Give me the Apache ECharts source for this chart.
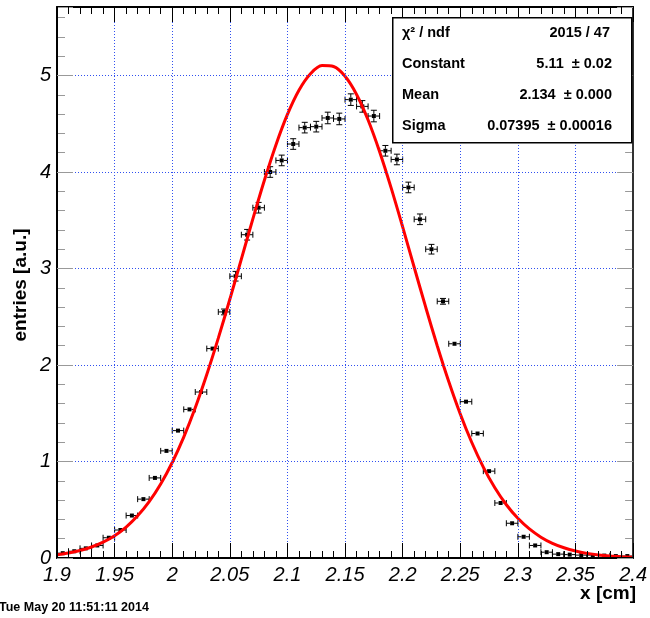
<!DOCTYPE html>
<html><head><meta charset="utf-8">
<script src="https://cdn.jsdelivr.net/npm/echarts@6/dist/echarts.min.js"></script>
<style>html,body{margin:0;padding:0;background:#fff}#c{width:650px;height:618px}</style>
</head><body><div id="c"></div>
<script>
// ---- data ----
const binWidth = 0.01;
const binCenters = [1.905,1.915,1.925,1.935,1.945,1.955,1.965,1.975,1.985,1.995,
  2.005,2.015,2.025,2.035,2.045,2.055,2.065,2.075,2.085,2.095,
  2.105,2.115,2.125,2.135,2.145,2.155,2.165,2.175,2.185,2.195,
  2.205,2.215,2.225,2.235,2.245,2.255,2.265,2.275,2.285,2.295,
  2.305,2.315,2.325,2.335,2.345,2.355,2.365,2.375,2.385,2.395];
const entries = [0.05,0.07,0.10,0.13,0.21,0.29,0.44,0.61,0.83,1.11,
  1.32,1.54,1.72,2.17,2.55,2.92,3.35,3.63,4.00,4.12,
  4.29,4.46,4.47,4.56,4.55,4.75,4.68,4.58,4.22,4.13,
  3.84,3.51,3.20,2.66,2.22,1.62,1.29,0.90,0.57,0.36,
  0.22,0.13,0.06,0.04,0.035,0.03,0.03,0.025,0.02,0.02];
const entryErrors = [0.01,0.01,0.01,0.01,0.01,0.015,0.015,0.015,0.02,0.02,
  0.02,0.02,0.025,0.025,0.03,0.05,0.055,0.055,0.055,0.055,
  0.055,0.055,0.055,0.06,0.06,0.06,0.06,0.06,0.055,0.055,
  0.055,0.055,0.05,0.03,0.025,0.02,0.02,0.02,0.015,0.015,
  0.01,0.01,0.01,0.01,0.01,0.01,0.01,0.01,0.01,0.01];
const fitX = [1.90,1.91,1.92,1.93,1.94,1.95,1.96,1.97,1.98,1.99,
  2.00,2.01,2.02,2.03,2.04,2.05,2.06,2.07,2.08,2.09,
  2.10,2.11,2.12,2.13,2.14,2.15,2.16,2.17,2.18,2.19,
  2.20,2.21,2.22,2.23,2.24,2.25,2.26,2.27,2.28,2.29,
  2.30,2.31,2.32,2.33,2.34,2.35,2.36,2.37,2.38,2.39,2.40];
const fitY = [0.034,0.052,0.078,0.114,0.164,0.231,0.321,0.437,0.584,0.767,
  0.990,1.253,1.557,1.901,2.278,2.681,3.097,3.514,3.914,4.281,
  4.597,4.848,5.019,5.103,5.093,4.992,4.804,4.539,4.211,3.836,
  3.431,3.013,2.599,2.200,1.829,1.493,1.197,0.942,0.728,0.552,
  0.411,0.301,0.216,0.152,0.106,0.072,0.048,0.031,0.020,0.013,0.008];
const xTickValues = [1.9,1.95,2.0,2.05,2.1,2.15,2.2,2.25,2.3,2.35,2.4];
const xTickLabels = ['1.9','1.95','2','2.05','2.1','2.15','2.2','2.25','2.3','2.35','2.4'];
const yTickValues = [0,1,2,3,4,5];
const yTickLabels = ['0','1','2','3','4','5'];
const statNames = ['\u03C7\u00B2 / ndf','Constant','Mean','Sigma'];
const statValues = ['2015 / 47','5.11  \u00B1 0.02','2.134  \u00B1 0.000','0.07395  \u00B1 0.00016'];
const xTitle = 'x [cm]';
const yTitle = 'entries [a.u.]';
const dateText = 'Tue May 20 11:51:11 2014';
const xMin = 1.9, xMax = 2.4, yMin = 0, yMax = 5.71;

// ---- chart ----
function lookup(vals, labels, v){
  for (let i=0;i<vals.length;i++) if (Math.abs(vals[i]-v) < 1e-6) return labels[i];
  return '';
}
const chart = echarts.init(document.getElementById('c'), null, {renderer:'canvas'});
const GRID = {left:57, right:14, top:7, bottom:60};
const tickFont = {fontFamily:'Liberation Sans', fontStyle:'italic', fontSize:20, color:'#000'};
const gridLine = {show:true, lineStyle:{color:'#3050f0', width:1, type:[1,2]}};

const pointData = binCenters.map((c,i)=>[c, entries[i], entryErrors[i]]);

function renderPoint(params, api){
  const x = api.value(0), y = api.value(1), e = api.value(2);
  const c = api.coord([x,y]);
  const l = api.coord([x-binWidth/2, y])[0];
  const r = api.coord([x+binWidth/2, y])[0];
  const t = api.coord([x, y+e])[1];
  const b = api.coord([x, y-e])[1];
  const m = 2, cap = 3;
  const st = {stroke:'#000', lineWidth:1, fill:null};
  const ch = [];
  ch.push({type:'line', shape:{x1:l, y1:c[1], x2:c[0]-m, y2:c[1]}, style:st});
  ch.push({type:'line', shape:{x1:c[0]+m, y1:c[1], x2:r, y2:c[1]}, style:st});
  ch.push({type:'line', shape:{x1:l, y1:c[1]-cap, x2:l, y2:c[1]+cap}, style:st});
  ch.push({type:'line', shape:{x1:r, y1:c[1]-cap, x2:r, y2:c[1]+cap}, style:st});
  if (c[1]-t > m+0.5) {
    ch.push({type:'line', shape:{x1:c[0], y1:t, x2:c[0], y2:c[1]-m}, style:st});
    ch.push({type:'line', shape:{x1:c[0], y1:c[1]+m, x2:c[0], y2:b}, style:st});
    ch.push({type:'line', shape:{x1:c[0]-cap, y1:t, x2:c[0]+cap, y2:t}, style:st});
    ch.push({type:'line', shape:{x1:c[0]-cap, y1:b, x2:c[0]+cap, y2:b}, style:st});
  }
  ch.push({type:'rect', shape:{x:c[0]-m, y:c[1]-m, width:2*m, height:2*m}, style:{fill:'#000'}});
  return {type:'group', children:ch};
}

const option = {
  animation:false,
  backgroundColor:'#fff',
  grid: GRID,
  xAxis: [
    {type:'value', min:xMin, max:xMax, interval:0.05, position:'bottom',
     axisLine:{show:true, onZero:false, lineStyle:{color:'#000', width:2}},
     axisTick:{show:true, inside:true, length:15, lineStyle:{color:'#000', width:1}},
     minorTick:{show:true, splitNumber:5, length:7, lineStyle:{color:'#000', width:1}},
     axisLabel:{...tickFont, margin:7, formatter:v=>lookup(xTickValues,xTickLabels,v)},
     splitLine:gridLine, z:5},
    {type:'value', min:xMin, max:xMax, interval:0.05, position:'top',
     axisLine:{show:true, onZero:false, lineStyle:{color:'#000', width:2}},
     axisTick:{show:true, inside:true, length:15, lineStyle:{color:'#000', width:1}},
     minorTick:{show:true, splitNumber:5, length:7, lineStyle:{color:'#000', width:1}},
     axisLabel:{show:false}, splitLine:{show:false}, z:5}
  ],
  yAxis: [
    {type:'value', min:yMin, max:yMax, interval:1, position:'left',
     axisLine:{show:true, onZero:false, lineStyle:{color:'#000', width:2}},
     axisTick:{show:true, inside:true, length:16, lineStyle:{color:'#999', width:1}},
     axisLabel:{...tickFont, margin:6, formatter:v=>lookup(yTickValues,yTickLabels,v)},
     splitLine:gridLine, z:5},
    {type:'value', min:yMin, max:yMax, interval:0.2, position:'left',
     axisLine:{show:false},
     axisTick:{show:true, inside:true, length:8, lineStyle:{color:'#999', width:1}},
     axisLabel:{show:false}, splitLine:{show:false}},
    {type:'value', min:yMin, max:yMax, interval:1, position:'right',
     axisLine:{show:true, onZero:false, lineStyle:{color:'#333', width:2}},
     axisTick:{show:true, inside:true, length:16, lineStyle:{color:'#999', width:1}},
     axisLabel:{show:false}, splitLine:{show:false}, z:5},
    {type:'value', min:yMin, max:yMax, interval:0.2, position:'right',
     axisLine:{show:false},
     axisTick:{show:true, inside:true, length:8, lineStyle:{color:'#999', width:1}},
     axisLabel:{show:false}, splitLine:{show:false}}
  ],
  series: [
    {type:'custom', xAxisIndex:0, yAxisIndex:0, data:pointData, renderItem:renderPoint,
     encode:{x:0, y:1}, z:3, clip:true},
    {type:'line', xAxisIndex:0, yAxisIndex:0, data:fitX.map((x,i)=>[x, fitY[i]]),
     smooth:0.3, showSymbol:false, symbol:'none', lineStyle:{color:'#ff0000', width:3}, z:4, clip:true}
  ],
  graphic: [
    {type:'rect', left:392, top:17, z:100,
     shape:{width:239, height:125}, style:{fill:'#fff', stroke:'#000', lineWidth:1.5}},
    ...statNames.map((n,i)=>({type:'text', x:402, y:32.5+i*31.3, z:101,
      style:{text:n, font:'bold 14.5px "Liberation Sans"', fill:'#000', textVerticalAlign:'middle', textAlign:'left'}})),
    ...statValues.map((v,i)=>({type:'text', x:(i===0?610:612), y:32.5+i*31.3, z:101,
      style:{text:v, font:'bold 14.5px "Liberation Sans"', fill:'#000', textVerticalAlign:'middle', textAlign:'right'}})),
    {type:'text', x:636, y:594, z:101,
     style:{text:xTitle, font:'bold 19px "Liberation Sans"', fill:'#000', textAlign:'right', textVerticalAlign:'middle'}},
    {type:'text', x:21, y:285, rotation:Math.PI/2, z:101,
     style:{text:yTitle, font:'bold 19px "Liberation Sans"', fill:'#000', textAlign:'center', textVerticalAlign:'middle'}},
    {type:'text', x:-1, y:608, z:101,
     style:{text:dateText, font:'bold 12.5px "Liberation Sans"', fill:'#000', textAlign:'left', textVerticalAlign:'middle'}}
  ]
};
chart.setOption(option);
</script></body></html>
